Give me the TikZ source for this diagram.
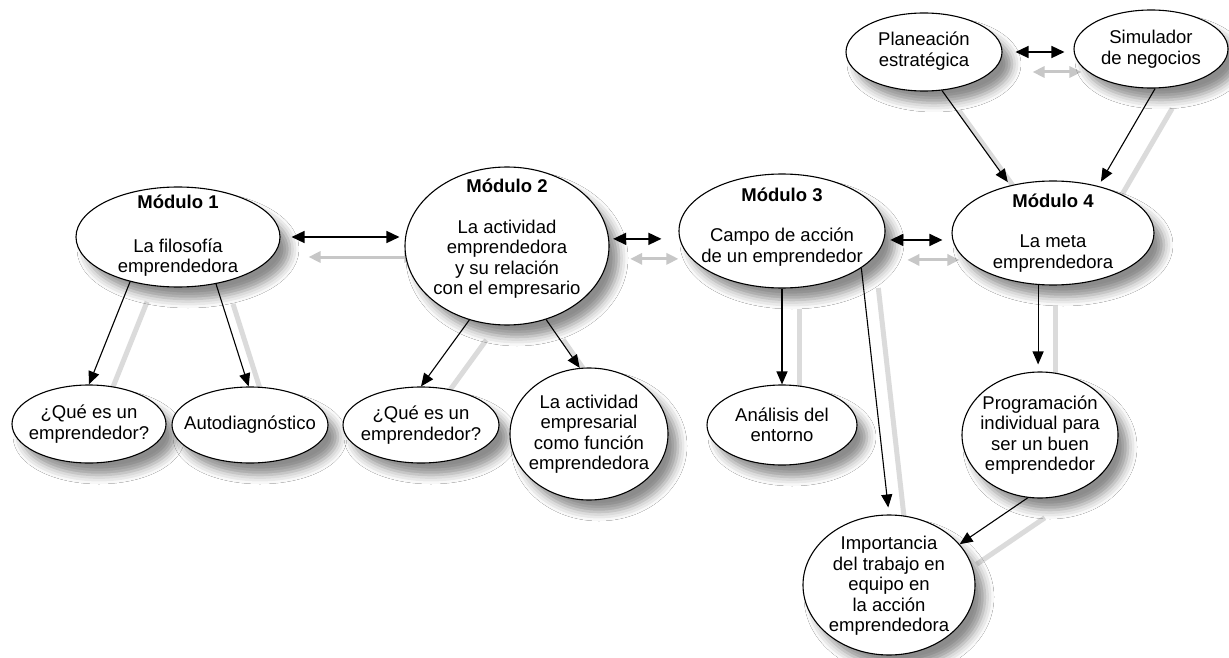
\documentclass[tikz,border=0pt]{standalone}
\usepackage{fontspec}
\setmainfont{Liberation Sans}
\usetikzlibrary{shapes.geometric,arrows.meta,shadows.blur,backgrounds,calc}
\tikzset{
  ell/.style={ellipse, draw=black, line width=1.1pt, fill=white, inner sep=0pt,
    blur shadow={shadow xshift=10pt, shadow yshift=-12pt, shadow blur radius=9pt, shadow opacity=45}},
  txt/.style={align=center, font=\fontsize{18.5}{20.5}\selectfont, inner sep=0pt},
  arr/.style={draw=black, line width=1.1pt, -{Triangle[length=13pt,width=11pt]}},
  dbl/.style={draw=black, line width=1.5pt, {Triangle[length=13pt,width=12pt]}-{Triangle[length=13pt,width=12pt]}},
  sharr/.style={draw=black!14, line width=5pt},
  shdbl/.style={draw=black!22, line width=3pt, {Triangle[length=12pt,width=11pt]}-{Triangle[length=12pt,width=11pt]}},
}
\newcommand{\allconn}[2]{%
  \draw[#2, shorten <=11pt, shorten >=5pt] (m1.east) -- (m1.east -| m2.west);
  \draw[#2, shorten <=4pt, shorten >=17pt] (m2.4) -- (m2.4 -| m3.west);
  \draw[#2, shorten <=6pt, shorten >=9pt] (m3.355) -- (m3.355 -| m4.west);
  \draw[#2, shorten <=13pt, shorten >=9pt] (pl.east) -- (pl.east -| si.west);
  \draw[#1] (m1.223) -- (q1.north);
  \draw[#1] (m1.309) -- (au.92);
  \draw[#1] (m2.243) -- (q2.north);
  \draw[#1] (m2.298) -- (ac.98);
  \draw[#1] (m3.south) -- (an.north);
  \draw[#1, shorten >=7pt] (m3.335) -- (im.north);
  \draw[#1, shorten >=7pt] (m4.254) -- (m4.254 |- pr.north);
  \draw[#1] (pr.259) -- (im.30);
  \draw[#1, shorten >=4pt] (pl.295) -- (m4.132);
  \draw[#1, shorten >=5pt] (si.276) -- (m4.46);
}
\begin{document}
\begin{tikzpicture}[x=1pt,y=-1pt]
\useasboundingbox (0,0) rectangle (1229,658);
% ellipses
\node[ell, minimum width=204pt, minimum height=100pt] (m1) at (178,237) {};
\node[ell, minimum width=204pt, minimum height=158pt] (m2) at (507,246) {};
\node[ell, minimum width=206pt, minimum height=114pt] (m3) at (782,231) {};
\node[ell, minimum width=202pt, minimum height=104pt] (m4) at (1053,233) {};
\node[ell, minimum width=156pt, minimum height=78pt] (pl) at (924,52) {};
\node[ell, minimum width=154pt, minimum height=78pt] (si) at (1151,49) {};
\node[ell, minimum width=154pt, minimum height=78pt] (q1) at (89,424) {};
\node[ell, minimum width=156pt, minimum height=76pt] (au) at (250,425) {};
\node[ell, minimum width=156pt, minimum height=76pt] (q2) at (421,425) {};
\node[ell, minimum width=158pt, minimum height=132pt] (ac) at (589,434) {};
\node[ell, minimum width=150pt, minimum height=80pt] (an) at (782,425) {};
\node[ell, minimum width=156pt, minimum height=126pt] (pr) at (1040,435) {};
\node[ell, minimum width=172pt, minimum height=140pt] (im) at (889,585) {};
% texts
\node[txt] (m1t) at (178,236) {\textbf{Módulo 1}\\[23pt]La filosofía\\emprendedora};
\node[txt] (m2t) at (507,239) {\textbf{Módulo 2}\\[20pt]La actividad\\emprendedora\\y su relación\\con el empresario};
\node[txt] (m3t) at (782,227) {\textbf{Módulo 3}\\[20pt]Campo de acción\\de un emprendedor};
\node[txt] (m4t) at (1053,233) {\textbf{Módulo 4}\\[20pt]La meta\\emprendedora};
\node[txt] (plt) at (924,51) {Planeación\\estratégica};
\node[txt] (sit) at (1151,49) {Simulador\\de negocios};
\node[txt] (q1t) at (89,424) {¿Qué es un\\emprendedor?};
\node[txt] (aut) at (250,425) {Autodiagnóstico};
\node[txt] (q2t) at (421,425) {¿Qué es un\\emprendedor?};
\node[txt] (act) at (589,434) {La actividad\\empresarial\\como función\\emprendedora};
\node[txt] (ant) at (782,425) {Análisis del\\entorno};
\node[txt] (prt) at (1040,435) {Programación\\individual para\\ser un buen\\emprendedor};
\node[txt] (imt) at (889,586) {Importancia\\del trabajo en\\equipo en\\la acción\\emprendedora};
% connector shadows
\begin{pgfonlayer}{background}
\fill[white] (0,0) rectangle (1229,658);
\begin{scope}[transform canvas={shift={(17pt,-20pt)}}]
\allconn{sharr}{shdbl}
\end{scope}
\end{pgfonlayer}
% connectors
\allconn{arr}{dbl}
\end{tikzpicture}
\end{document}
